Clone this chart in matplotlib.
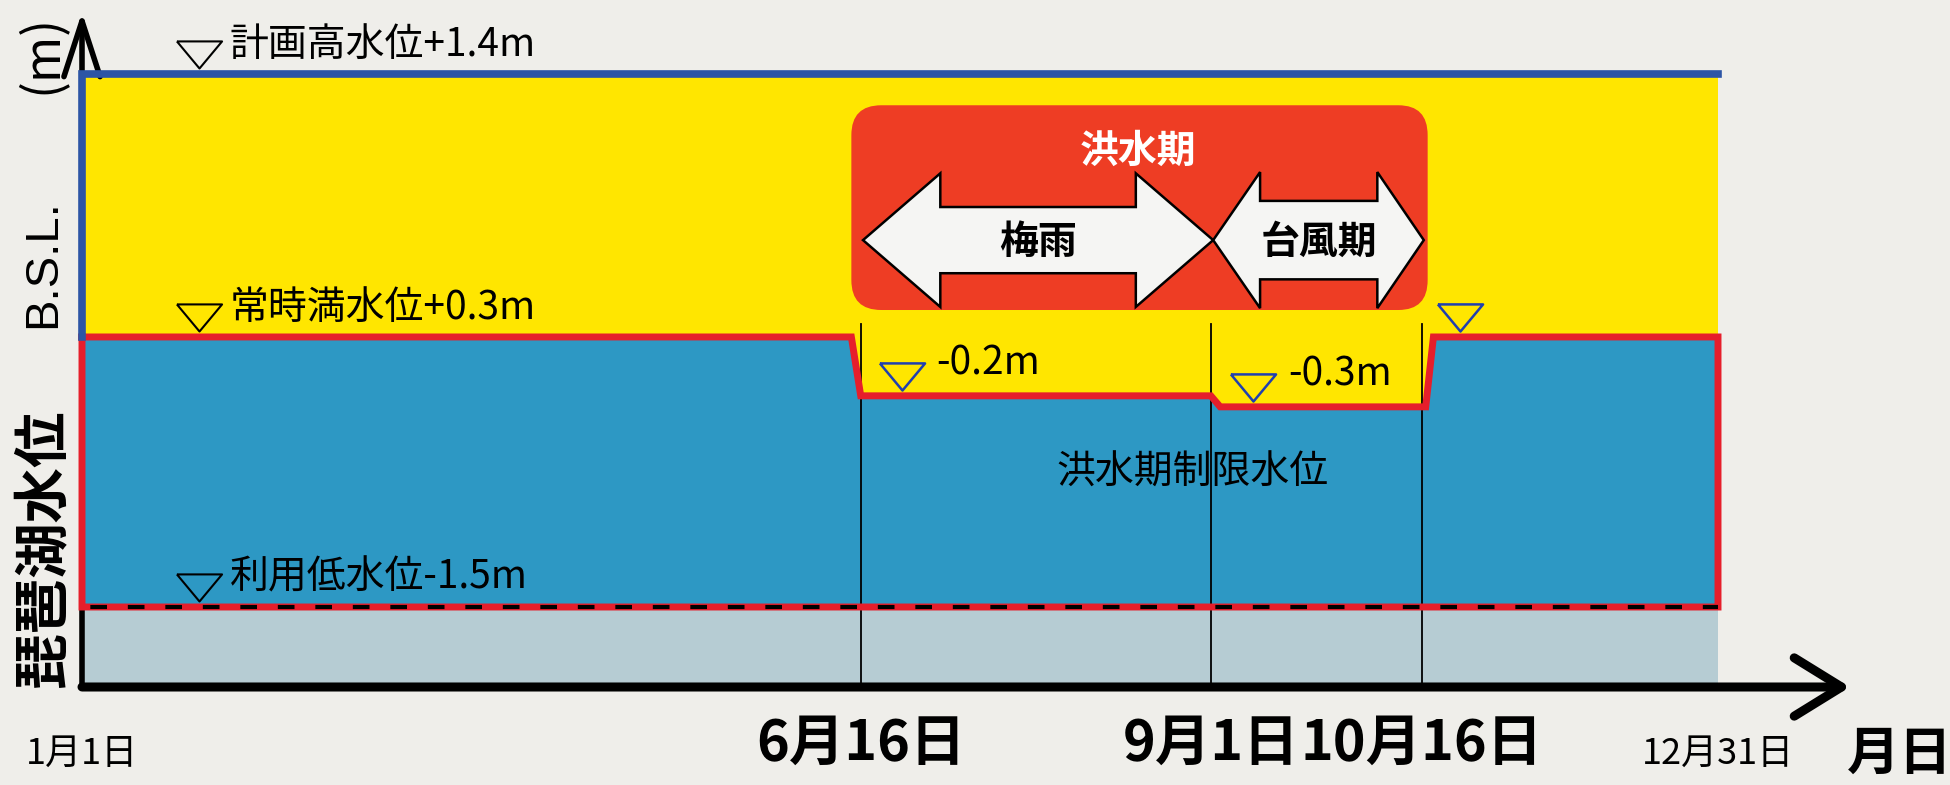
"""Lake Biwa seasonal water-level operation diagram."""

from __future__ import annotations

import matplotlib

matplotlib.use("Agg")
import matplotlib.pyplot as plt
import numpy as np
from matplotlib import font_manager, transforms
from matplotlib.patches import FancyBboxPatch, Polygon

# day of year, 1月1日 = 0
tick_days = [0, 166, 243, 288, 365]
tick_labels = ["1月1日", "6月16日", "9月1日", "10月16日", "12月31日"]

# operating rule curve, m B.S.L.
level_days = [0, 164, 166, 243, 245, 289, 291, 365]
level_m = [0.3, 0.3, -0.2, -0.2, -0.3, -0.3, 0.3, 0.3]

high_water_m = 1.4
normal_full_m = 0.3
low_water_m = -1.5
floor_m = -2.0

ref_levels = [1.4, 0.3, -1.5]
ref_labels = ["計画高水位+1.4m", "常時満水位+0.3m", "利用低水位-1.5m"]

flood_mark_days = [175, 252, 298]
flood_mark_levels = [-0.2, -0.3, 0.3]
flood_mark_labels = ["-0.2m", "-0.3m", ""]

period_names = ["梅雨", "台風期"]
period_start = [166, 243]
period_end = [243, 288]

# the drawing is a schematic: both axes are stretched piecewise
X_FRAC = [0.0, 0.476, 0.690, 0.819, 1.0]
Y_NODES = [floor_m, -1.5, -0.3, -0.2, 0.3, 1.4]
Y_FRAC = [0.0, 0.1305, 0.457, 0.475, 0.571, 1.0]

BG = "#efeeea"
YELLOW = "#ffe600"
WATER = "#2d98c4"
BOTTOM = "#b6ccd3"
RED = "#e61e2b"
BLUE = "#2d55a5"
BOX = "#ee3d24"
TRI_BLUE = "#1f3fb0"

TRIANGLE = [(-1.0, 1.2), (1.0, 1.2), (0.0, 0.0), (-1.0, 1.2)]


def schematic(nodes: list[float], frac: list[float]):
    return (lambda v: np.interp(v, nodes, frac), lambda f: np.interp(f, frac, nodes))


def double_arrow(x0: float, x1: float, yc: float, shaft: float, head: float, head_len: float) -> list[tuple[float, float]]:
    return [
        (x0, yc), (x0 + head_len, yc + head), (x0 + head_len, yc + shaft),
        (x1 - head_len, yc + shaft), (x1 - head_len, yc + head), (x1, yc),
        (x1 - head_len, yc - head), (x1 - head_len, yc - shaft),
        (x0 + head_len, yc - shaft), (x0 + head_len, yc - head),
    ]


installed = {f.name for f in font_manager.fontManager.ttflist}
LATIN = "Liberation Sans Narrow" if "Liberation Sans Narrow" in installed else "Noto Sans CJK JP"
plt.rcParams["font.family"] = [LATIN, "Noto Sans CJK JP", "DejaVu Sans"]

fig = plt.figure(figsize=(19.5, 7.85), dpi=100, facecolor=BG)
ax = fig.add_axes([82 / 1950, 98 / 785, 1636 / 1950, 613 / 785])
ax.set_facecolor("none")
ax.set_xscale("function", functions=schematic(tick_days, X_FRAC))
ax.set_yscale("function", functions=schematic(Y_NODES, Y_FRAC))
for spine in ax.spines.values():
    spine.set_visible(False)

year = [tick_days[0], tick_days[-1]]
mixed = transforms.blended_transform_factory(ax.transData, ax.transAxes)

# bands
ax.fill_between(year, low_water_m, high_water_m, color=YELLOW, lw=0, zorder=1)
ax.fill_between(year, floor_m, low_water_m, color=BOTTOM, lw=0, zorder=1)
ax.fill_between(level_days, low_water_m, level_m, color=WATER, lw=0, zorder=1.5)

for day in tick_days[1:-1]:
    ax.axvline(day, ymin=0, ymax=0.592, color="black", lw=1.3, zorder=2)

# borders
outline_x = level_days + [year[1], year[0], year[0]]
outline_y = level_m + [low_water_m, low_water_m, normal_full_m]
ax.plot(outline_x, outline_y, color=RED, lw=5, solid_joinstyle="miter", zorder=3, clip_on=False)
ax.plot([year[0], year[0], year[1]], [normal_full_m, high_water_m, high_water_m],
        color=BLUE, lw=5.5, solid_joinstyle="miter", zorder=3, clip_on=False)
ax.plot(year, [low_water_m, low_water_m], color="black", lw=3, linestyle=(7, (4, 5)), zorder=3.5)

# flood period box and arrows
ax.add_patch(FancyBboxPatch((164, 0.615), 125.5, 0.334, boxstyle="round,pad=0,rounding_size=6.5",
                            mutation_aspect=0.0075, transform=mixed, facecolor=BOX, edgecolor="none", zorder=4))
ax.text(227, 0.874, "洪水期", transform=mixed, ha="center", va="center", color="white",
        fontsize=28, weight="bold", zorder=6)
arrow_shape = [(0.054, 0.109, 17), (0.064, 0.111, 10)]
for name, x0, x1, (shaft, head, hl) in zip(period_names, period_start, period_end, arrow_shape):
    ax.add_patch(Polygon(double_arrow(x0 + 0.5, x1 + 0.5, 0.729, shaft, head, hl), closed=True,
                         transform=mixed, facecolor="#f5f5f3", edgecolor="black", lw=1.8, zorder=5))
    ax.text((x0 + x1) / 2 + 0.5, 0.726, name, transform=mixed, ha="center", va="center",
            fontsize=28, weight="bold", zorder=6)

ax.text(239, 0.349, "洪水期制限水位", transform=mixed, ha="center", va="center", fontsize=28, zorder=6)

# level marks
lifted = transforms.offset_copy(ax.transData, fig=fig, y=4, units="points")
ref_day = 25
ax.plot([ref_day] * len(ref_levels), ref_levels, ls="none", marker=TRIANGLE, ms=39,
        mfc="none", mec="black", mew=1.5, transform=lifted, zorder=7, clip_on=False)
for level, label in zip(ref_levels, ref_labels):
    ax.annotate(label, xy=(ref_day, level), xytext=(22, 21), textcoords="offset points",
                ha="left", va="center", fontsize=28, zorder=7, annotation_clip=False)

ax.plot(flood_mark_days, flood_mark_levels, ls="none", marker=TRIANGLE, ms=39,
        mfc="none", mec=TRI_BLUE, mew=1.8, transform=lifted, zorder=7, clip_on=False)
for day, level, label in zip(flood_mark_days, flood_mark_levels, flood_mark_labels):
    if label:
        ax.annotate(label, xy=(day, level), xytext=(25, 23), textcoords="offset points",
                    ha="left", va="center", fontsize=28, zorder=7)

# axes arrows
ax.annotate("", xy=(0, 1.101), xytext=(0, 0), xycoords="axes fraction", annotation_clip=False,
            arrowprops=dict(arrowstyle="->,head_length=4,head_width=1.3", lw=4, color="black",
                            mutation_scale=10, shrinkA=0, shrinkB=0), zorder=2.5)
ax.annotate("", xy=(1.0807, 0), xytext=(0, 0), xycoords="axes fraction", annotation_clip=False,
            arrowprops=dict(arrowstyle="->,head_length=3.4,head_width=2.1", lw=6.5, color="black",
                            mutation_scale=10, shrinkA=0, shrinkB=0), zorder=8)

ax.set_xlim(year[0], year[1])
ax.set_ylim(floor_m, high_water_m)
ax.set_yticks([])
ax.set_xticks(tick_days[1:-1], labels=tick_labels[1:-1])
ax.set_xticks([tick_days[0], tick_days[-1]], labels=[tick_labels[0], tick_labels[-1]], minor=True)
ax.tick_params(axis="x", which="major", length=0, pad=21, labelsize=40)
ax.tick_params(axis="x", which="minor", length=0, pad=35, labelsize=26)
for label in ax.get_xticklabels():
    label.set_fontweight("bold")

fig.text(1900 / 1950, 1 - 754 / 785, "月日", ha="center", va="center", fontsize=38, weight="bold")
fig.text(44 / 1950, 1 - 548 / 785, "琵琶湖水位", rotation=90, ha="center", va="center",
         fontsize=40, weight="bold", family=["Noto Sans CJK JP"])
fig.text(43 / 1950, 1 - 264 / 785, "B.S.L.", rotation=90, ha="center", va="center",
         fontsize=34, family=["Liberation Sans", "DejaVu Sans"])
fig.text(42 / 1950, 1 - 54 / 785, "(m)", rotation=90, ha="center", va="center",
         fontsize=36, family=["Noto Sans CJK JP"])

fig.savefig("out.png", dpi=100, facecolor=BG)
